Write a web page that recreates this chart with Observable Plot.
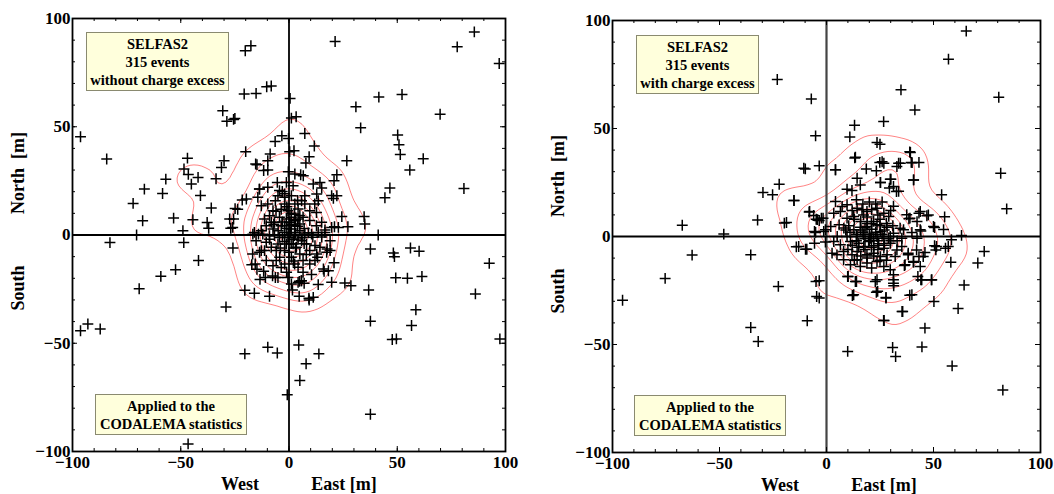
<!DOCTYPE html>
<html><head><meta charset="utf-8">
<script src="https://cdn.jsdelivr.net/npm/d3@7"></script>
<script src="https://cdn.jsdelivr.net/npm/@observablehq/plot@0.6"></script>
<style>
html,body{margin:0;padding:0;background:#fff;}
body{width:1054px;height:494px;overflow:hidden;position:relative;font-family:"Liberation Serif","DejaVu Serif",serif;}
.panel{position:absolute;top:0;}
.box{position:absolute;background:#ffffdc;border:1px solid #8a8a70;font-weight:bold;font-size:14.5px;line-height:18px;text-align:center;display:flex;flex-direction:column;justify-content:center;box-sizing:border-box;color:#000;}
.lab{position:absolute;font-weight:bold;font-size:18px;white-space:pre;transform:translate(-50%,-50%);color:#000;}
.rot{transform:translate(-50%,-50%) rotate(-90deg);}
</style></head><body>
<div id="left" class="panel" style="left:0"></div>
<div id="right" class="panel" style="left:530px"></div>
<script>
// ---- data ----
const majorTicks = [-100, -50, 0, 50, 100];
const minorTicks = [-90, -80, -70, -60, -50, -40, -30, -20, -10, 0, 10, 20, 30, 40, 50, 60, 70, 80, 90];

// Left: 315 events without charge excess (East, North) in metres
const eventsWithout = [
[-96.3,45.4],[-84.2,35.1],[-72.0,14.6],[-67.6,6.6],[-66.8,21.2],[-70.4,0],[-82.7,-3.5],[-69.2,-24.8],[-96.3,-44.2],[-92.9,-41.1],
[-87.2,-43.4],[-59.2,-19.1],[-52.4,-16.0],[-58.4,19.2],[-56.9,25.8],[-53.3,7.8],[-49.0,2.0],[-48.6,-3.5],[-48.5,30.5],[-46.9,35.5],
[-46.5,28.0],[-45.1,23.5],[-44.4,7.1],[-42.0,26.6],[-40.9,18.2],[-41.8,-11.8],[-46.6,-96.5],[-37.8,5.8],[-37.1,3.1],[-35.9,12.5],
[-33.7,26.0],[-31.2,31.2],[-30.0,34.3],[-30.6,57.4],[-28.7,52.5],[-25.6,53.4],[-25.0,53.8],[-29.1,-33.2],[-27.4,7.4],[-26.9,3.1],
[-25.9,-6.0],[-24.9,12.2],[-21.6,16.2],[-20.0,38.5],[-20.7,65.1],[-20.2,85.1],[-17.6,87.4],[-15.2,65.4],[-20.4,-54.9],[-20.4,-25.5],
[-16.0,-26.9],[-17.2,-13.7],[-10.3,68.5],[-8.2,68.8],[-9.8,-51.8],[-5.4,-54.5],[-0.8,-73.8],[0.5,63.1],[1.1,54.0],[3.3,54.6],
[-3.3,45.8],[-0.2,44.6],[-6.4,43.2],[0.3,38.5],[2.3,38.9],[7.3,46.9],[11.7,41.1],[9.3,36.2],[7.8,33.2],[5.4,27.8],
[-0.3,29.2],[-8.7,37.4],[-9.8,34.3],[-14.8,32.5],[-11.7,29.8],[-15.4,32.8],[21.3,89.4],[30.9,59.2],[33.1,49.5],[41.5,63.7],
[52.2,64.9],[50.2,46.2],[50.8,41.7],[51.4,37.2],[55.8,30.0],[62.0,35.2],[69.8,55.8],[77.7,86.9],[85.6,93.8],[97.1,79.2],
[80.8,21.5],[26.7,34.3],[22.1,27.8],[20.8,25.1],[19.7,18.2],[20.5,16.9],[24.4,8.5],[27.2,3.8],[21.0,3.8],[34.7,8.5],
[35.0,5.1],[41.2,0],[44.3,17.2],[46.6,21.7],[37.6,-6.5],[48.2,-8.3],[48.7,-10.0],[56.1,-6.0],[60.1,-7.5],[49.3,-19.8],
[54.7,-20.0],[61.4,-19.2],[92.5,-13.1],[86.1,-27.2],[36.8,-25.4],[37.6,-39.8],[58.6,-34.5],[56.6,-41.8],[47.7,-48.3],[49.6,-48.0],
[97.4,-48.0],[37.6,-82.8],[20.8,-12.8],[16.2,-16.8],[19.7,-21.8],[25.8,-22.2],[28.6,-23.4],[13.5,-22.9],[17.6,-6.5],[4.5,-50.8],
[13.8,-54.9],[7.9,-59.5],[5.0,-67.2],[4.7,-28.3],[9.2,-29.2],[9.3,-30.0],[1.6,-25.4],[-9.0,-28.3],[-7.6,-18.9],[-13.4,-20.5],
[-11.7,-16.8],[-1.1,-17.2],[4.2,-14.9],[4.8,-21.4],[5.7,-21.1],[10.4,-18.3],[7.0,-22.3],[12.0,-4.9],[13.2,-10.3],
[-9.8,30.0],[-5.4,24.3],[-1.2,24.3],[2.7,28.2],[6.6,27.4],[11.2,23.5],[14.3,24.3],[15.1,21.7],[22.1,18.1],[-13.6,21.2],
[-9.8,22.0],[-4.4,20.5],[-2.0,17.4],[-6.3,15.8],[-9.8,14.3],[-12.8,13.5],[-14.4,17.4],[-19.7,16.6],[-23.7,11.9],[-25.6,7.4],
[-26.0,3.5],[-16.0,1.2],[-12.8,2.0],[-7.4,2.8],[-8.2,5.9],[-4.4,8.2],[-0.5,11.2],[2.6,9.6],[4.2,7.4],[6.5,8.2],
[9.6,6.7],[12.7,4.3],[15.1,5.9],[19.7,3.5],[22.8,3.5],[10.4,0.4],[14.3,-5.7],[19.0,-7.2],[12.8,-8.8],[9.6,-13.4],
[6.5,-17.2],[5.8,-21.1],[11.2,-28.8],[-0.5,-19.6],[-3.6,-15.0],[-7.4,-14.2],[-10.5,-11.8],[-12.8,-7.2],[-15.2,-2.6],[-10.5,-3.4],
[-5.9,-7.2],[-2.0,-7.2],[1.1,-10.3],[3.4,-5.7],[5.8,-2.6],[7.3,0.4],[5.0,2.0],[1.1,2.8],[-2.0,1.2],[-4.4,-1.1],
[-0.5,-1.1],[2.6,-0.3],[0.3,5.9],[5.0,5.1],[-2.0,4.3],[2.6,4.3],[1.1,8.2],[4.2,12.0],[7.3,14.3],[9.6,11.2],
[11.9,14.3],[12.7,10.4],[13.5,1.2],[16.6,1.2],[8.1,-4.1],[9.6,-7.2],[12.0,-11.8],[2.6,-13.4],[1.1,-22.6],[4.2,-21.9],
[-6.3,-19.6],[-10.9,-19.6],[-14.8,-15.8],[-15.6,-13.4],[-11.3,-7.2],[-13.6,-8.0],[-8.2,-5.7],[-5.1,-4.1],[-1.2,-4.1],[-4.3,-10.3],
[-2.0,-13.4],[-5.9,-11.8],[5.0,-8.8],[6.5,-11.8],[1.9,-4.1],[4.2,-1.9],[0.8,1.2],[2.6,6.6],[-1.2,7.4],[-3.6,4.3],
[-6.7,5.9],[-9.0,8.9],[-11.3,7.4],[-10.5,4.3],[-6.7,-0.3],[-9.0,-0.3],[-12.1,0.4],[-14.1,0.4],[-16.7,0.4],[5.8,15.8],
[7.3,18.1],[12.8,18.9],[13.5,15.8],[1.1,18.1],[2.7,14.3],[-2.0,14.3],[-3.6,11.9],[-7.4,11.2],[-5.1,18.1],[-16.8,-8.8],
[-1,3],[1,5],[3,1],[2,-2],[-2,-3],[0,0],[4,4],[-3,6],[5,9],[1,10],
[-1,13],[3,-6],[6,-1],[7,3],[-5,2],[-4,-6],[0,-8],[2,-12],[8,-9],[-7,5],
[9,1],[-6,11],[4,16],[-2,19],[7,-4],[11,-1],[-9,-2],[1,-4],[3,7],[-3,-1],
[-13.7,21.2],[-3.1,20.1],[1.9,22.7],[16.6,2.3],[15.1,-0.9],[19.0,-2.7],[17.4,-8.0],[15.9,-15.7],[18.2,-16.5],[-5.1,-19.6]
];

// Right: 315 events with charge excess
const eventsWith = [
[-95.3,-29.5],[-75.4,-19.4],[-67.4,5.2],[-62.8,-8.6],[-48.0,1.1],[-35.4,-8.5],[-35.4,-42.1],[-31.9,-48.6],[-32.2,7.6],[-29.7,20.4],
[-25.2,19.3],[-22.1,24.2],[-23.0,72.7],[-22.5,-23.1],[-19.7,6.2],[-15.2,16.7],[-14.1,-4.8],[-9.8,-5.9],[-9.9,31.3],[-9.0,-39.0],
[-7.1,63.7],[-5.1,46.6],[-3.4,32.7],[-3.4,-20.5],[-3.4,-28.5],[-8.1,11.3],[-5.6,2.3],[-5.6,-3.1],[-4.8,8.0],[-1.6,8.5],
[-3.4,7.4],[-0.5,3.1],[-0.5,-2.6],[4.2,30.9],[9.9,-53.2],[10.9,46.1],[13.1,51.5],[13.2,36.4],[23.6,43.5],[25.0,42.7],
[26.7,53.2],[34.8,67.9],[41.3,58.6],[57.0,82.1],[65.3,95.1],[80.5,64.5],[81.4,29.3],[84.2,12.8],[53.8,19.3],[55.2,9.1],
[38.9,39.2],[39.6,34.3],[43.2,34.3],[40.7,26.2],[33.7,33.9],[32.9,32.4],[24.9,34.3],[25.2,25.0],[23.3,30.4],[18.6,31.3],
[30.1,26.5],[29.4,22.4],[32.7,20.8],[63.1,0.5],[73.7,-6.9],[70.7,-12.3],[58.1,-11.9],[64.3,-22.5],[61.5,-33.3],[50.2,-30.1],
[46.0,-42.4],[44.6,-51.1],[58.7,-59.9],[82.4,-71.1],[30.9,-51.4],[32.3,-55.6],[35.3,-34.7],[26.7,-38.9],[38.9,-27.2],[27.8,-28.2],
[23.3,-25.8],[49.0,-20.1],[44.1,-20.1],[42.7,-18.5],[31.4,-22.8],[22.8,-20.8],[13.5,-20.8],[9.9,-18.5],[12.1,-27.3],[51.1,-6.2],
[50.5,-4.3],[55.6,-5.4],[50.5,4.2],[54.7,3.2],[58.4,-1.5],[44.1,2.6],[42.3,6.9],[46.9,9.6],[43.2,10.8],[38.5,8.2],
[46.0,-7.4],[43.2,-9.3],[40.7,-11.9],[36.4,-13.4],[38.2,-8.5],[56.9,-4.6],
[26.0,34.6],[26.8,33.9],[34.5,33.9],[40.0,34.2],[39.2,38.9],[13.5,36.7],[4.2,30.9],[-10.6,31.6],
[14.3,27.0],[15.8,23.9],[9.6,21.9],[11.9,21.3],[25.2,25.0],[29.8,26.5],[31.3,23.2],[33.7,20.9],[40.7,26.2],[-15.2,16.7],
[-7.9,11.6],[4.2,16.2],[7.3,13.9],[9.6,14.7],[14.3,13.1],[16.6,12.4],[18.9,11.6],[21.1,12.4],[23.6,13.1],[26.8,10.8],
[29.1,9.3],[17.3,10.0],[12.7,9.3],[9.6,8.5],[6.5,11.6],[3.4,10.8],[31.3,14.0],[37.5,10.1],[39.0,8.5],[43.8,11.6],
[47.6,10.0],[-4.3,7.8],[-2.4,8.5],[-6.0,9.7],[-18.7,6.5],
[2.0,4.6],[5.9,5.4],[8.1,3.9],[10.4,5.0],[12.8,3.1],[15.8,4.3],[18.9,4.6],[21.1,3.4],[23.6,5.4],[25.2,2.3],
[28.3,4.3],[31.3,1.5],[34.4,3.8],[36.0,3.1],[39.9,1.9],[43.8,3.1],[50.0,4.6],[5.0,0],[9.6,0],[14.3,0],
[17.4,0.8],[20.5,-0.8],[23.6,0],[26.8,-0.8],[29.8,0],[35.2,-0.8],[42.3,-0.8],[-5.1,1.9],[-1.3,2.3],
[3.4,-2.3],[6.5,-3.8],[11.2,-2.3],[15.1,-3.1],[17.4,-4.6],[19.7,-2.3],[22.1,-4.3],[24.4,-3.4],[26.8,-5.4],[29.8,-3.1],
[32.9,-6.2],[35.2,-4.6],[38.2,-7.7],[42.1,-6.2],[45.2,-9.3],[51.4,-4.6],[-13.0,-4.6],[-9.2,-5.9],[2.6,-7.7],[4.9,-8.5],
[8.0,-6.9],[11.9,-8.5],[14.3,-6.9],[18.9,-8.5],[22.1,-7.7],[25.2,-9.3],[28.3,-8.5],[32.1,-9.3],
[8.0,-10.8],[11.2,-13.1],[14.3,-10.8],[15.8,-13.9],[18.9,-12.3],[21.1,-14.6],[23.6,-11.6],[26.8,-13.9],[29.8,-15.4],[31.3,-17.7],
[31.3,-20.0],[36.7,-13.1],[40.6,-11.6],[43.8,-13.9],[10.1,-18.5],[14.0,-20.8],[23.6,-20.0],[31.3,-21.6],[-4.9,-20.8],[-4.6,-27.8],
[44.5,-20.0],[49.2,-20.0],[39.9,-27.0],[12.7,-27.0],[23.9,-25.4],[27.8,-28.5],[35.6,-34.7],[26.9,-38.9],
[13,8],[16,7],[19,9],[22,7],[25,8],[28,6],[11,2],[14,1],[17,2],[20,1],
[23,2],[26,1],[29,-1],[12,-4],[15,-5],[18,-6],[21,-5],[24,-6],[27,-4],[30,-2],
[16,-9],[19,-10],[22,-9],[25,-11],[28,-11],[13,-11],[10,-6],[9,3],[18,4],[21,6],
[24,10],[17,15],[20,16],[23,15],[26,16],[14,17],[12,12],[30,12],[33,-2],[31,5],
[20,-2],[22,-1],[18,-1],[21,1],[24,-2],[16,3],[19,6],[27,3],[14,-2],[25,5]
];

const boxTop = {left: ["SELFAS2", "315 events", "without charge excess"], right: ["SELFAS2", "315 events", "with charge excess"]};
const boxBottom = ["Applied to the", "CODALEMA statistics"];

function panel(points, W, mL, mR, mT, mB, vColor, vWidth) {
  const H = 494;
  const iw = W - mL - mR, ih = H - mT - mB;
  const tickStyle = {stroke: "black", strokeWidth: 1};
  return Plot.plot({
    width: W, height: H,
    marginLeft: mL, marginRight: mR, marginTop: mT, marginBottom: mB,
    x: {domain: [-100, 100]},
    y: {domain: [-100, 100]},
    style: {fontFamily: "'Liberation Serif', serif", fontWeight: "bold", fontSize: "17px", color: "black", background: "white", overflow: "visible"},
    marks: [
      Plot.density(points, {x: d => d[0], y: d => d[1], bandwidth: 14, thresholds: 11, stroke: "#ff5050", strokeOpacity: 0.7, strokeWidth: 1}),
      Plot.ruleX([0], {stroke: vColor, strokeWidth: vWidth}),
      Plot.ruleY([0], {stroke: "black", strokeWidth: 1.8}),
      Plot.tickX(minorTicks, {x: d => d, insetTop: ih - 3, ...tickStyle}),
      Plot.tickX(minorTicks, {x: d => d, insetBottom: ih - 3, ...tickStyle}),
      Plot.tickY(minorTicks, {y: d => d, insetRight: iw - 3, ...tickStyle}),
      Plot.tickY(minorTicks, {y: d => d, insetLeft: iw - 3, ...tickStyle}),
      Plot.tickX(majorTicks, {x: d => d, insetTop: ih - 5, ...tickStyle}),
      Plot.tickX(majorTicks, {x: d => d, insetBottom: ih - 5, ...tickStyle}),
      Plot.tickY(majorTicks, {y: d => d, insetRight: iw - 5, ...tickStyle}),
      Plot.tickY(majorTicks, {y: d => d, insetLeft: iw - 5, ...tickStyle}),
      Plot.dot(points, {x: d => d[0], y: d => d[1], symbol: "plus", r: 3.6, stroke: "black", fill: "none", strokeWidth: 1.5}),
      Plot.frame({stroke: "black", strokeWidth: 1.8}),
      Plot.axisX({ticks: majorTicks, tickSize: 0, tickPadding: 4, label: null}),
      Plot.axisY({ticks: majorTicks, tickSize: 0, tickPadding: 2, label: null})
    ]
  });
}

document.getElementById("left").append(panel(eventsWithout, 530, 72, 25, 18, 43, "black", 1.8));
document.getElementById("right").append(panel(eventsWith, 524, 82, 14, 20, 42, "#444", 2.2));

function addBox(lines, left, top, w, h) {
  const d = document.createElement("div");
  d.className = "box";
  d.style.left = left + "px"; d.style.top = top + "px";
  d.style.width = w + "px"; d.style.height = h + "px";
  lines.forEach(t => { const s = document.createElement("div"); s.textContent = t; d.append(s); });
  document.body.append(d);
}
addBox(boxTop.left, 86, 32, 143, 59);
addBox(boxBottom, 95, 394, 152, 41);
addBox(boxTop.right, 636, 35, 123, 59);
addBox(boxBottom, 634, 395, 152, 41);

function addLabel(text, x, y, rot) {
  const d = document.createElement("div");
  d.className = "lab" + (rot ? " rot" : "");
  d.style.left = x + "px"; d.style.top = y + "px";
  d.textContent = text;
  document.body.append(d);
}
addLabel("North  [m]", 18, 173, true);
addLabel("South", 18, 288, true);
addLabel("West", 240, 484, false);
addLabel("East [m]", 344, 484, false);
addLabel("North  [m]", 558, 176, true);
addLabel("South", 558, 291, true);
addLabel("West", 780, 485, false);
addLabel("East [m]", 884, 485, false);
</script>
</body></html>
